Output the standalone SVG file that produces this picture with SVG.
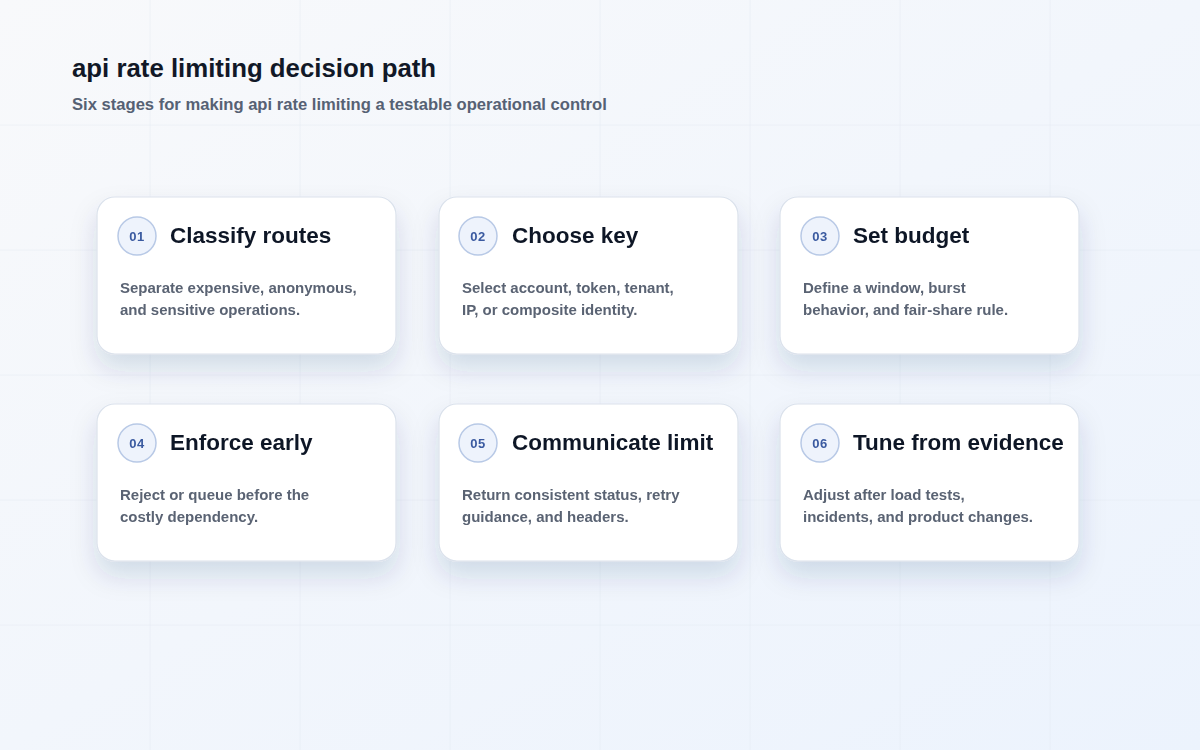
<svg xmlns="http://www.w3.org/2000/svg" width="1200" height="750" viewBox="0 0 1200 750">
  <defs>
    <linearGradient id="bg" x1="0" y1="0" x2="1" y2="1">
      <stop offset="0" stop-color="#f8f9fb"/>
      <stop offset="1" stop-color="#ecf3fd"/>
    </linearGradient>
    <filter id="shadow" x="-25%" y="-25%" width="150%" height="180%">
      <feGaussianBlur in="SourceAlpha" stdDeviation="13"/>
      <feOffset dx="0" dy="14" result="b"/>
      <feFlood flood-color="#1e3566" flood-opacity="0.14"/>
      <feComposite in2="b" operator="in"/>
      <feMerge>
        <feMergeNode/>
        <feMergeNode in="SourceGraphic"/>
      </feMerge>
    </filter>
    <style>
      .grid line { stroke: #e2e8f1; stroke-width: 1; opacity: 0.45; }
      .card { fill: #ffffff; stroke: #dbe2ec; stroke-width: 1.2; }
      .badge { fill: #eef3fc; stroke: #b8c9e6; stroke-width: 1.5; }
      .num { font-family: "Liberation Sans", Arial, sans-serif; font-size: 13px; font-weight: 700; fill: #3a5aa0; text-anchor: middle; letter-spacing: 0.5px; }
      .ttl { font-family: "Liberation Sans", Arial, sans-serif; font-size: 22.5px; font-weight: 700; fill: #111827; }
      .desc { font-family: "Liberation Sans", Arial, sans-serif; font-size: 15px; font-weight: 700; fill: #5a6373; }
      .h1 { font-family: "Liberation Sans", Arial, sans-serif; font-size: 25.8px; font-weight: 700; fill: #111827; }
      .h2 { font-family: "Liberation Sans", Arial, sans-serif; font-size: 16.6px; font-weight: 700; fill: #566174; }
    </style>
  </defs>

  <rect width="1200" height="750" fill="url(#bg)"/>
  <g class="grid">
    <line x1="150" y1="0" x2="150" y2="750"/>
    <line x1="300" y1="0" x2="300" y2="750"/>
    <line x1="450" y1="0" x2="450" y2="750"/>
    <line x1="600" y1="0" x2="600" y2="750"/>
    <line x1="750" y1="0" x2="750" y2="750"/>
    <line x1="900" y1="0" x2="900" y2="750"/>
    <line x1="1050" y1="0" x2="1050" y2="750"/>
    <line x1="0" y1="125" x2="1200" y2="125"/>
    <line x1="0" y1="250" x2="1200" y2="250"/>
    <line x1="0" y1="375" x2="1200" y2="375"/>
    <line x1="0" y1="500" x2="1200" y2="500"/>
    <line x1="0" y1="625" x2="1200" y2="625"/>
  </g>

  <g id="header">
    <text class="h1" x="72" y="77">api rate limiting decision path</text>
    <text class="h2" x="72" y="110">Six stages for making api rate limiting a testable operational control</text>
  </g>

  <g id="connectors"></g>

  <g id="stage-01" filter="url(#shadow)">
    <rect class="card" x="97" y="197" width="299" height="157" rx="18"/>
    <circle class="badge" cx="137" cy="236" r="19"/>
    <text class="num" x="137" y="241">01</text>
    <text class="ttl" x="170" y="243">Classify routes</text>
    <text class="desc" x="120" y="293">Separate expensive, anonymous,</text>
    <text class="desc" x="120" y="315">and sensitive operations.</text>
  </g>

  <g id="stage-02" filter="url(#shadow)">
    <rect class="card" x="439" y="197" width="299" height="157" rx="18"/>
    <circle class="badge" cx="478" cy="236" r="19"/>
    <text class="num" x="478" y="241">02</text>
    <text class="ttl" x="512" y="243">Choose key</text>
    <text class="desc" x="462" y="293">Select account, token, tenant,</text>
    <text class="desc" x="462" y="315">IP, or composite identity.</text>
  </g>

  <g id="stage-03" filter="url(#shadow)">
    <rect class="card" x="780" y="197" width="299" height="157" rx="18"/>
    <circle class="badge" cx="820" cy="236" r="19"/>
    <text class="num" x="820" y="241">03</text>
    <text class="ttl" x="853" y="243">Set budget</text>
    <text class="desc" x="803" y="293">Define a window, burst</text>
    <text class="desc" x="803" y="315">behavior, and fair-share rule.</text>
  </g>

  <g id="stage-04" filter="url(#shadow)">
    <rect class="card" x="97" y="404" width="299" height="157" rx="18"/>
    <circle class="badge" cx="137" cy="443" r="19"/>
    <text class="num" x="137" y="448">04</text>
    <text class="ttl" x="170" y="450">Enforce early</text>
    <text class="desc" x="120" y="500">Reject or queue before the</text>
    <text class="desc" x="120" y="522">costly dependency.</text>
  </g>

  <g id="stage-05" filter="url(#shadow)">
    <rect class="card" x="439" y="404" width="299" height="157" rx="18"/>
    <circle class="badge" cx="478" cy="443" r="19"/>
    <text class="num" x="478" y="448">05</text>
    <text class="ttl" x="512" y="450">Communicate limit</text>
    <text class="desc" x="462" y="500">Return consistent status, retry</text>
    <text class="desc" x="462" y="522">guidance, and headers.</text>
  </g>

  <g id="stage-06" filter="url(#shadow)">
    <rect class="card" x="780" y="404" width="299" height="157" rx="18"/>
    <circle class="badge" cx="820" cy="443" r="19"/>
    <text class="num" x="820" y="448">06</text>
    <text class="ttl" x="853" y="450">Tune from evidence</text>
    <text class="desc" x="803" y="500">Adjust after load tests,</text>
    <text class="desc" x="803" y="522">incidents, and product changes.</text>
  </g>
</svg>
